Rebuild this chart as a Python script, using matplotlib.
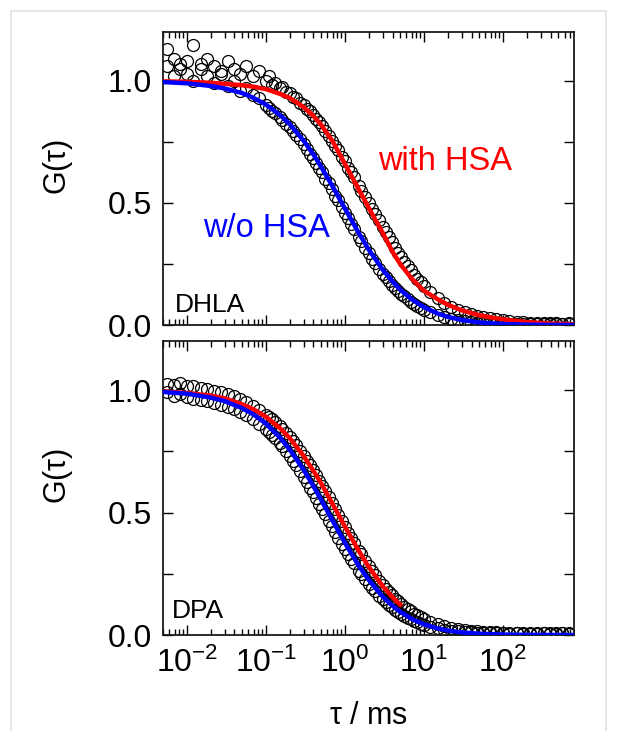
import matplotlib
matplotlib.use("Agg")
import matplotlib.pyplot as plt
from matplotlib.ticker import MultipleLocator, LogLocator, NullFormatter, FormatStrFormatter
from matplotlib.lines import Line2D

plt.rcParams['font.family'] = ['Liberation Sans', 'DejaVu Sans']
plt.rcParams['mathtext.fontset'] = 'custom'
plt.rcParams['mathtext.rm'] = 'Liberation Sans'
plt.rcParams['mathtext.default'] = 'regular'

# lag times of the correlation data (ms)
tau = [0.0056, 0.0068, 0.0082,
       0.010, 0.012, 0.015, 0.018, 0.022, 0.027, 0.033, 0.039, 0.047, 0.056, 0.068, 0.082,
       0.10, 0.11, 0.12, 0.13, 0.15, 0.16, 0.18, 0.20, 0.22, 0.24, 0.27, 0.30,
       0.33, 0.36, 0.39, 0.43, 0.47, 0.51, 0.56, 0.62, 0.68, 0.75, 0.82, 0.91,
       1.0, 1.1, 1.2, 1.3, 1.5, 1.6, 1.8, 2.0, 2.2, 2.4, 2.7, 3.0,
       3.3, 3.6, 3.9, 4.3, 4.7, 5.1, 5.6, 6.2, 6.8, 7.5, 8.2, 9.1,
       10, 12, 15, 18, 22, 27, 33, 39, 47, 56, 68, 82,
       100, 120, 150, 180, 220, 270, 330, 390, 470, 560, 680]

# DHLA, without HSA
dhla_wo = [1.06, 1.02, 1.07,
           1.03, 1.00, 1.05, 1.02, 0.99, 1.03, 0.98, 1.00, 0.96, 0.97, 0.94, 0.93,
           0.90, 0.89, 0.875, 0.87, 0.85, 0.84, 0.825, 0.81, 0.795, 0.78, 0.76, 0.74,
           0.72, 0.70, 0.685, 0.665, 0.645, 0.625, 0.60, 0.58, 0.555, 0.53, 0.51, 0.485,
           0.46, 0.44, 0.415, 0.395, 0.36, 0.345, 0.315, 0.295, 0.27, 0.255, 0.23, 0.21,
           0.195, 0.18, 0.165, 0.15, 0.14, 0.128, 0.117, 0.105, 0.095, 0.086, 0.078, 0.07,
           0.063, 0.052, 0.040, 0.032, 0.025, 0.019, 0.015, 0.012, 0.010, 0.008, 0.007, 0.006,
           0.006, 0.005, 0.006, 0.004, 0.005, 0.004, 0.006, 0.003, 0.005, 0.004, 0.006]

# DHLA, with HSA
dhla_w = [1.13, 1.09, 1.05,
          1.08, 1.148, 1.07, 1.09, 1.06, 1.04, 1.08, 1.05, 1.03, 1.06, 1.02, 1.04,
          1.00, 1.02, 0.985, 0.99, 0.97, 0.975, 0.955, 0.95, 0.935, 0.93, 0.91, 0.90,
          0.885, 0.875, 0.86, 0.845, 0.83, 0.815, 0.795, 0.775, 0.755, 0.735, 0.715, 0.69,
          0.67, 0.645, 0.625, 0.605, 0.57, 0.55, 0.525, 0.50, 0.475, 0.455, 0.43, 0.40,
          0.38, 0.36, 0.34, 0.315, 0.295, 0.28, 0.26, 0.24, 0.225, 0.205, 0.19, 0.175,
          0.16, 0.135, 0.11, 0.09, 0.075, 0.062, 0.052, 0.045, 0.038, 0.032, 0.027, 0.023,
          0.019, 0.016, 0.014, 0.011, 0.010, 0.008, 0.009, 0.007, 0.008, 0.006, 0.007]

# DPA, without HSA
dpa_wo = [0.99, 0.975, 0.985,
          0.97, 0.965, 0.96, 0.955, 0.948, 0.94, 0.932, 0.922, 0.912, 0.898, 0.882, 0.862,
          0.84, 0.828, 0.815, 0.803, 0.782, 0.772, 0.75, 0.73, 0.712, 0.694, 0.668, 0.645,
          0.623, 0.602, 0.583, 0.559, 0.536, 0.515, 0.492, 0.467, 0.444, 0.42, 0.398, 0.373,
          0.351, 0.33, 0.31, 0.293, 0.263, 0.25, 0.228, 0.21, 0.193, 0.179, 0.161, 0.146,
          0.133, 0.122, 0.113, 0.102, 0.094, 0.086, 0.078, 0.07, 0.064, 0.057, 0.052, 0.046,
          0.042, 0.034, 0.027, 0.022, 0.018, 0.015, 0.012, 0.011, 0.009, 0.008, 0.008, 0.007,
          0.007, 0.006, 0.007, 0.006, 0.006, 0.005, 0.007, 0.006, 0.005, 0.007, 0.006]

# DPA, with HSA
dpa_w = [1.025, 1.02, 1.028,
         1.018, 1.015, 1.01, 1.005, 0.998, 0.99, 0.982, 0.975, 0.964, 0.95, 0.936, 0.92,
         0.90, 0.89, 0.88, 0.87, 0.852, 0.842, 0.825, 0.808, 0.792, 0.776, 0.753, 0.732,
         0.712, 0.692, 0.675, 0.652, 0.63, 0.61, 0.587, 0.562, 0.538, 0.513, 0.49, 0.464,
         0.44, 0.417, 0.395, 0.376, 0.343, 0.329, 0.302, 0.28, 0.26, 0.243, 0.222, 0.204,
         0.188, 0.174, 0.162, 0.148, 0.137, 0.127, 0.116, 0.105, 0.096, 0.087, 0.08, 0.072,
         0.066, 0.055, 0.044, 0.036, 0.029, 0.024, 0.02, 0.017, 0.015, 0.013, 0.012, 0.011,
         0.010, 0.009, 0.010, 0.008, 0.009, 0.008, 0.009, 0.007, 0.009, 0.008, 0.010]

# fitted curves
tau_fit = [0.005, 0.01, 0.02, 0.03, 0.05, 0.07, 0.1, 0.15, 0.2, 0.3, 0.4, 0.5, 0.7,
           1.0, 1.5, 2.0, 3.0, 4.0, 5.0, 7.0, 10, 15, 20, 30, 50, 70, 100, 200, 400, 800]
fit_dhla_wo = [0.995, 0.990, 0.979, 0.969, 0.950, 0.930, 0.903, 0.861, 0.823, 0.755, 0.698,
               0.648, 0.567, 0.477, 0.376, 0.309, 0.227, 0.178, 0.145, 0.105, 0.0728,
               0.0466, 0.0334, 0.0204, 0.0106, 0.0067, 0.0041, 0.0015, 0.0006, 0.0002]
fit_dhla_w = [0.998, 0.996, 0.992, 0.988, 0.982, 0.976, 0.966, 0.947, 0.930, 0.893, 0.856,
              0.820, 0.752, 0.660, 0.555, 0.480, 0.378, 0.300, 0.250, 0.190, 0.140,
              0.105, 0.083, 0.060, 0.040, 0.031, 0.023, 0.012, 0.006, 0.003]
fit_dpa_wo = [0.992, 0.985, 0.969, 0.955, 0.926, 0.900, 0.863, 0.807, 0.757, 0.675, 0.607,
              0.552, 0.466, 0.376, 0.282, 0.225, 0.157, 0.119, 0.0947, 0.0658, 0.0436,
              0.0266, 0.0184, 0.0107, 0.0053, 0.0033, 0.002, 0.0007, 0.0002, 0.0001]
tau_fit_dpa_w = [0.005, 0.01, 0.02, 0.03, 0.05, 0.07, 0.1, 0.15, 0.2, 0.3, 0.4, 0.5, 0.7,
                 1.0, 1.5, 2.0, 3.0, 4.0, 5.0]
fit_dpa_w = [0.994, 0.988, 0.977, 0.966, 0.942, 0.921, 0.891, 0.845, 0.804, 0.731, 0.670,
             0.619, 0.534, 0.443, 0.343, 0.278, 0.200, 0.154, 0.124]

fig = plt.figure(figsize=(6.2, 7.31), dpi=100)
ax1 = fig.add_axes([0.2629, 0.5554, 0.6629, 0.4008])
ax2 = fig.add_axes([0.2629, 0.1313, 0.6629, 0.4022])

panels = [
    (ax1, dhla_wo, dhla_w, fit_dhla_wo, tau_fit, fit_dhla_w, tau_fit, "DHLA", (0.029, 0.045)),
    (ax2, dpa_wo, dpa_w, fit_dpa_wo, tau_fit, fit_dpa_w, tau_fit_dpa_w, "DPA", (0.021, 0.058)),
]

for ax, d_wo, d_w, f_wo, t_wo, f_w, t_w, name, pos in panels:
    ax.plot(tau, d_wo, 'o', ms=8.6, mfc='none', mec='black', mew=0.9, zorder=2)
    ax.plot(tau, d_w, 'o', ms=8.6, mfc='none', mec='black', mew=0.9, zorder=2)
    ax.plot(t_w, f_w, '-', color='#ff0000', lw=3.2, zorder=3)
    ax.plot(t_wo, f_wo, '-', color='#0000ff', lw=3.2, zorder=4)

    ax.set_xscale('log')
    ax.set_xlim(5e-3, 790)
    ax.set_ylim(0, 1.2)
    ax.yaxis.set_major_locator(MultipleLocator(0.5))
    ax.yaxis.set_minor_locator(MultipleLocator(0.25))
    ax.yaxis.set_major_formatter(FormatStrFormatter('%.1f'))
    ax.xaxis.set_major_locator(LogLocator(base=10, numticks=20))
    ax.xaxis.set_minor_locator(LogLocator(base=10, subs=range(2, 10), numticks=20))
    ax.xaxis.set_minor_formatter(NullFormatter())
    ax.tick_params(which='both', direction='in', top=True, right=True, width=1.0,
                   labelsize=23, colors='black')
    ax.tick_params(which='major', length=7.5)
    ax.tick_params(axis='y', which='minor', length=7.5)
    ax.tick_params(axis='x', which='minor', length=4)
    ax.tick_params(axis='y', pad=8)
    ax.tick_params(axis='x', pad=9)
    for sp in ax.spines.values():
        sp.set_linewidth(1.3)
        sp.set_color('#1a1a1a')

    ax.set_ylabel(r'G($\tau$)', fontsize=22)
    ax.yaxis.set_label_coords(-0.214, 0.54)
    ax.text(pos[0], pos[1], name, transform=ax.transAxes, fontsize=19,
            ha='left', va='baseline')

ax1.tick_params(axis='x', labelbottom=False)
ax1.text(0.523, 0.529, 'with HSA', transform=ax1.transAxes, color='#ff0000',
         fontsize=23.5, ha='left', va='baseline')
ax1.text(0.097, 0.299, 'w/o HSA', transform=ax1.transAxes, color='#0000ff',
         fontsize=23.5, ha='left', va='baseline')

ax2.set_xlabel(r'$\tau$ / ms', fontsize=22)
ax2.xaxis.set_label_coords(0.5, -0.276)
ax2.xaxis.label.set_va('center')

# light frame around the figure
for xs, ys in [([10.5 / 620, 606 / 620], [1 - 10.5 / 731] * 2),
               ([10.5 / 620] * 2, [0, 1 - 10.5 / 731]),
               ([606 / 620] * 2, [0, 1 - 10.5 / 731])]:
    fig.add_artist(Line2D(xs, ys, color='#e2e2e2', lw=1.2))

fig.savefig('out.png', dpi=100, facecolor='white')
